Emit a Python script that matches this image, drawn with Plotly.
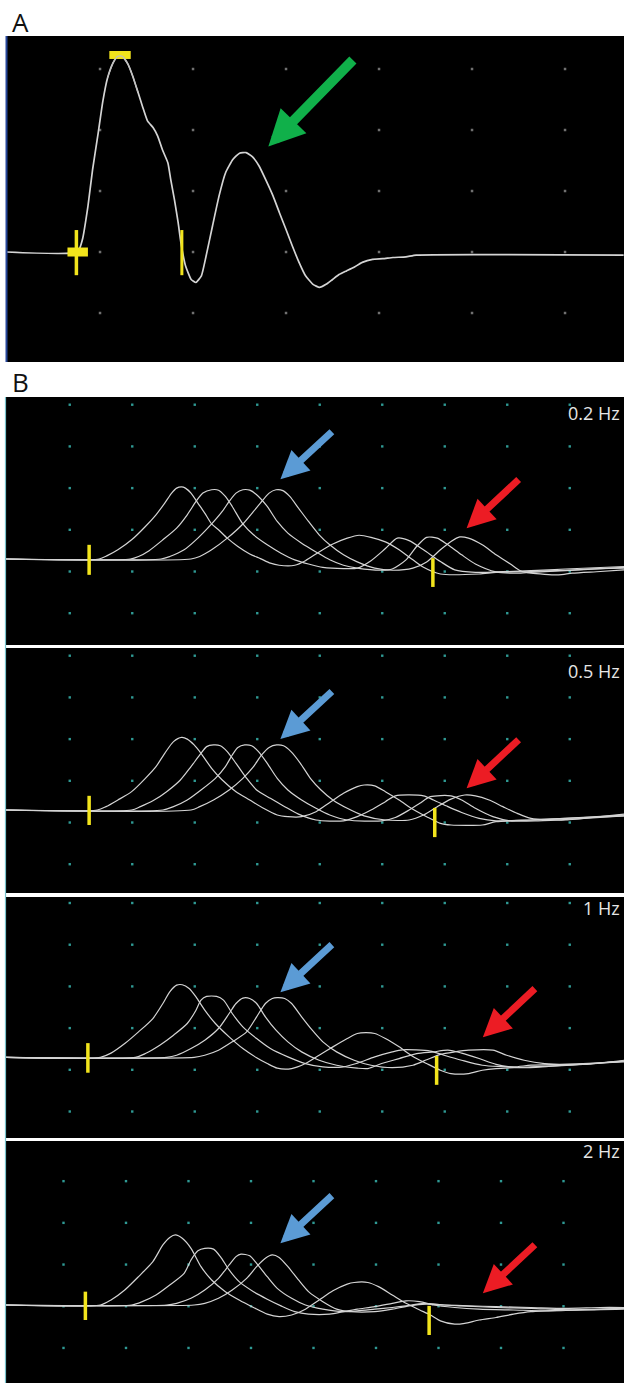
import plotly.graph_objects as go

W, H = 624, 1383

# ---------------- Panel A : single response (time in ms, amplitude in mV) -------------
a_time = [0.0, 0.76, 0.81, 0.87, 0.92, 0.98, 1.03, 1.08, 1.14, 1.19, 1.24, 1.30, 1.35, 1.41,
          1.46, 1.51, 1.57, 1.62, 1.67, 1.73, 1.76, 1.80, 1.84, 1.87, 1.92, 1.98, 2.03, 2.09,
          2.14, 2.21, 2.28, 2.35, 2.43, 2.50, 2.57, 2.64, 2.71, 2.78, 2.86, 2.93, 3.00, 3.07,
          3.14, 3.21, 3.29, 3.36, 3.43, 3.50, 3.57, 3.65, 3.72, 3.82, 3.93, 4.04, 4.15, 4.29,
          4.40, 6.63]
a_amp = [0.0, 0.0, 0.20, 0.75, 1.35, 1.95, 2.47, 2.85, 3.10, 3.21, 3.21, 3.08, 2.89, 2.61,
         2.37, 2.15, 2.04, 1.90, 1.68, 1.46, 1.19, 0.86, 0.48, 0.15, -0.23, -0.45, -0.50, -0.39,
         -0.07, 0.43, 0.92, 1.30, 1.52, 1.62, 1.63, 1.56, 1.41, 1.19, 0.92, 0.64, 0.37, 0.09,
         -0.17, -0.39, -0.53, -0.58, -0.53, -0.45, -0.37, -0.31, -0.26, -0.17, -0.12, -0.11,
         -0.09, -0.08, -0.05, -0.05]
a_grid_cols = [1, 2, 3, 4, 5, 6]
a_grid_rows = [-1, 0, 1, 2, 3]
a_onset_cursor_x = 0.746
a_onset_cursor_y = [0.36, -0.38]
a_onset_block_x = [0.65, 0.87]
a_peak_block_x = [1.10, 1.33]
a_peak_block_y = 3.23
a_end_cursor_x = 1.88
a_end_cursor_y = [0.36, -0.38]
a_arrow_tip = (2.81, 1.73)

# ---------------- Panel B : four superimposed responses per stimulation rate ----------
freq_labels = ["0.2 Hz", "0.5 Hz", "1 Hz", "2 Hz"]

hz02_r1 = [(0, 0), (1.49, 0), (1.62, 0.08), (1.79, 0.22), (2.01, 0.46), (2.23, 0.78), (2.40, 1.06),
           (2.54, 1.34), (2.65, 1.58), (2.73, 1.70), (2.81, 1.73), (2.87, 1.70), (2.96, 1.58),
           (3.07, 1.34), (3.18, 1.10), (3.29, 0.84), (3.40, 0.70), (3.54, 0.50), (3.71, 0.30),
           (3.90, 0.12), (4.07, 0.01), (4.23, -0.10), (4.37, -0.15), (4.62, -0.15), (4.79, -0.04),
           (5.01, 0.17), (5.23, 0.36), (5.46, 0.50), (5.65, 0.57), (5.84, 0.52), (6.07, 0.41),
           (6.29, 0.22), (6.51, -0.02), (6.68, -0.20), (6.95, -0.36), (7.57, -0.36), (7.84, -0.32),
           (8.40, -0.30), (8.95, -0.27), (9.51, -0.23), (9.89, -0.22)]
hz02_r2 = [(0, 0), (1.99, 0), (2.12, 0.06), (2.29, 0.20), (2.51, 0.46), (2.73, 0.74), (2.90, 1.06),
           (3.04, 1.38), (3.15, 1.58), (3.29, 1.66), (3.40, 1.65), (3.51, 1.50), (3.62, 1.26),
           (3.79, 0.84), (3.96, 0.58), (4.18, 0.34), (4.40, 0.14), (4.62, -0.02), (4.84, -0.12),
           (5.07, -0.20), (5.40, -0.23), (5.62, -0.22), (5.84, -0.04), (6.07, 0.25), (6.26, 0.50),
           (6.45, 0.44), (6.68, 0.22), (6.95, -0.06), (7.18, -0.26), (7.51, -0.32), (7.84, -0.31),
           (8.40, -0.28), (8.95, -0.24), (9.89, -0.18)]
hz02_r3 = [(0, 0), (2.48, 0), (2.62, 0.06), (2.85, 0.22), (3.07, 0.50), (3.29, 0.84), (3.46, 1.14),
           (3.57, 1.38), (3.68, 1.58), (3.79, 1.66), (3.90, 1.65), (4.01, 1.54), (4.18, 1.26),
           (4.34, 0.90), (4.51, 0.62), (4.73, 0.38), (4.96, 0.17), (5.18, -0.02), (5.40, -0.15),
           (5.62, -0.22), (6.01, -0.27), (6.18, -0.24), (6.40, -0.02), (6.57, 0.30), (6.73, 0.52),
           (6.90, 0.50), (7.07, 0.34), (7.29, 0.10), (7.51, -0.12), (7.84, -0.31), (8.18, -0.34),
           (8.40, -0.32), (8.95, -0.28), (9.89, -0.20)]
hz02_r4 = [(0, 0), (2.96, 0), (3.10, 0.06), (3.29, 0.22), (3.54, 0.50), (3.79, 0.84), (3.96, 1.14),
           (4.07, 1.34), (4.21, 1.58), (4.32, 1.66), (4.43, 1.64), (4.54, 1.50), (4.68, 1.22),
           (4.84, 0.90), (5.01, 0.58), (5.18, 0.34), (5.40, 0.10), (5.62, -0.07), (5.90, -0.22),
           (6.18, -0.27), (6.51, -0.22), (6.73, -0.07), (6.95, 0.22), (7.12, 0.42), (7.26, 0.53),
           (7.40, 0.50), (7.62, 0.34), (7.84, 0.10), (8.07, -0.12), (8.23, -0.28), (8.40, -0.34),
           (8.84, -0.38), (9.06, -0.34), (9.51, -0.30), (9.89, -0.26)]

hz05_r1 = [(0, 0), (1.46, 0), (1.60, 0.08), (1.79, 0.24), (2.01, 0.44), (2.23, 0.76), (2.40, 1.04),
           (2.54, 1.36), (2.68, 1.64), (2.81, 1.74), (2.90, 1.70), (3.01, 1.56), (3.12, 1.36),
           (3.29, 1.00), (3.46, 0.72), (3.68, 0.44), (3.90, 0.24), (4.12, 0.04), (4.34, -0.12),
           (4.51, -0.16), (4.73, -0.16), (4.96, -0.04), (5.18, 0.18), (5.40, 0.40), (5.62, 0.56),
           (5.73, 0.60), (5.90, 0.58), (6.07, 0.44), (6.29, 0.24), (6.51, 0.02), (6.73, -0.16),
           (6.95, -0.32), (7.12, -0.36), (7.62, -0.36), (7.84, -0.28), (8.40, -0.24), (8.95, -0.20),
           (9.89, -0.14)]
hz05_r2 = [(0, 0), (2.01, 0), (2.15, 0.08), (2.35, 0.22), (2.57, 0.44), (2.79, 0.72), (2.96, 1.04),
           (3.10, 1.32), (3.21, 1.52), (3.32, 1.56), (3.43, 1.54), (3.54, 1.40), (3.68, 1.12),
           (3.85, 0.76), (4.01, 0.48), (4.23, 0.28), (4.46, 0.08), (4.68, -0.10), (4.96, -0.24),
           (5.40, -0.26), (5.62, -0.16), (5.84, 0.0), (6.07, 0.20), (6.23, 0.34), (6.68, 0.34),
           (6.84, 0.24), (7.07, 0.08), (7.29, -0.06), (7.57, -0.20), (7.84, -0.26), (8.40, -0.24),
           (8.95, -0.20), (9.89, -0.12)]
hz05_r3 = [(0, 0), (2.51, 0), (2.68, 0.08), (2.90, 0.24), (3.12, 0.48), (3.35, 0.76), (3.51, 1.04),
           (3.62, 1.32), (3.71, 1.50), (3.82, 1.56), (3.93, 1.54), (4.04, 1.40), (4.18, 1.12),
           (4.34, 0.76), (4.51, 0.48), (4.73, 0.24), (4.96, 0.04), (5.18, -0.12), (5.46, -0.24),
           (6.01, -0.26), (6.23, -0.18), (6.45, 0.0), (6.62, 0.16), (6.79, 0.32), (7.12, 0.34),
           (7.29, 0.24), (7.51, 0.04), (7.79, -0.16), (8.07, -0.26), (8.51, -0.26), (9.06, -0.22),
           (9.89, -0.14)]
hz05_r4 = [(0, 0), (2.96, 0), (3.10, 0.08), (3.32, 0.24), (3.57, 0.48), (3.79, 0.76), (3.96, 1.04),
           (4.09, 1.32), (4.21, 1.50), (4.33, 1.56), (4.44, 1.54), (4.56, 1.40), (4.71, 1.12),
           (4.87, 0.76), (5.04, 0.48), (5.23, 0.24), (5.46, 0.04), (5.73, -0.14), (6.07, -0.24),
           (6.45, -0.24), (6.68, -0.12), (6.90, 0.08), (7.12, 0.26), (7.34, 0.36), (7.51, 0.34),
           (7.73, 0.24), (7.95, 0.08), (8.18, -0.08), (8.40, -0.20), (8.95, -0.24), (9.51, -0.16),
           (9.89, -0.10)]

hz1_r1 = [(0, 0), (1.51, 0), (1.68, 0.10), (1.90, 0.33), (2.12, 0.61), (2.35, 0.93), (2.51, 1.29),
          (2.62, 1.57), (2.73, 1.73), (2.82, 1.74), (2.93, 1.65), (3.04, 1.45), (3.18, 1.13),
          (3.35, 0.81), (3.57, 0.49), (3.79, 0.21), (4.01, -0.01), (4.18, -0.15), (4.34, -0.26),
          (4.57, -0.27), (4.79, -0.15), (5.01, 0.05), (5.23, 0.25), (5.46, 0.45), (5.62, 0.57),
          (5.76, 0.59), (5.90, 0.57), (6.07, 0.45), (6.29, 0.25), (6.51, 0.02), (6.73, -0.15),
          (6.95, -0.31), (7.12, -0.39), (7.40, -0.39), (7.62, -0.31), (7.84, -0.27), (8.40, -0.23),
          (8.95, -0.19), (9.89, -0.09)]
hz1_r2 = [(0, 0), (2.07, 0), (2.23, 0.09), (2.46, 0.29), (2.68, 0.53), (2.90, 0.81), (3.04, 1.13),
          (3.12, 1.37), (3.21, 1.46), (3.37, 1.46), (3.48, 1.37), (3.62, 1.05), (3.79, 0.73),
          (4.01, 0.45), (4.23, 0.21), (4.51, 0.01), (4.79, -0.15), (5.07, -0.23), (5.40, -0.23),
          (5.62, -0.14), (5.90, 0.01), (6.18, 0.13), (6.34, 0.18), (6.79, 0.15), (7.01, 0.05),
          (7.29, -0.07), (7.62, -0.19), (8.12, -0.23), (8.40, -0.19), (8.95, -0.17), (9.89, -0.11)]
hz1_r3 = [(0, 0), (2.57, 0), (2.73, 0.05), (2.96, 0.21), (3.18, 0.41), (3.40, 0.69), (3.57, 1.05),
          (3.68, 1.29), (3.79, 1.42), (3.90, 1.41), (4.01, 1.29), (4.15, 0.97), (4.32, 0.65),
          (4.51, 0.37), (4.73, 0.13), (5.01, -0.07), (5.29, -0.19), (5.62, -0.26), (5.79, -0.27),
          (6.01, -0.15), (6.29, -0.03), (6.57, 0.09), (6.84, 0.13), (7.07, 0.17), (7.29, 0.10),
          (7.57, -0.03), (7.84, -0.17), (8.23, -0.25), (8.68, -0.22), (9.23, -0.17), (9.89, -0.09)]
hz1_r4 = [(0, 0), (3.01, 0), (3.18, 0.05), (3.40, 0.17), (3.62, 0.37), (3.85, 0.61), (4.01, 0.97),
          (4.15, 1.29), (4.26, 1.41), (4.34, 1.43), (4.46, 1.41), (4.57, 1.29), (4.73, 0.97),
          (4.90, 0.65), (5.07, 0.37), (5.29, 0.13), (5.57, -0.07), (5.84, -0.19), (6.18, -0.25),
          (6.51, -0.19), (6.73, -0.06), (6.95, 0.07), (7.18, 0.13), (7.40, 0.17), (7.79, 0.17),
          (8.01, 0.05), (8.29, -0.07), (8.62, -0.15), (8.95, -0.17), (9.40, -0.15), (9.89, -0.07)]

hz2_r1 = [(0, 0), (1.51, 0), (1.68, 0.12), (1.90, 0.36), (2.12, 0.68), (2.35, 1.04), (2.51, 1.44),
          (2.62, 1.62), (2.71, 1.68), (2.82, 1.60), (2.96, 1.36), (3.12, 0.92), (3.29, 0.60),
          (3.51, 0.32), (3.73, 0.12), (3.96, -0.06), (4.18, -0.22), (4.37, -0.28), (4.57, -0.24),
          (4.79, -0.10), (5.01, 0.12), (5.23, 0.34), (5.46, 0.50), (5.57, 0.54), (5.79, 0.54),
          (5.96, 0.44), (6.18, 0.24), (6.40, 0.04), (6.62, -0.12), (6.79, -0.24), (6.95, -0.38),
          (7.18, -0.46), (7.34, -0.44), (7.57, -0.36), (7.84, -0.30), (8.12, -0.22), (8.40, -0.16),
          (8.95, -0.12), (9.89, -0.08)]
hz2_r2 = [(0, 0), (2.01, 0), (2.18, 0.08), (2.40, 0.24), (2.62, 0.48), (2.85, 0.76), (2.96, 1.08),
          (3.07, 1.30), (3.18, 1.36), (3.32, 1.34), (3.43, 1.16), (3.57, 0.84), (3.73, 0.56),
          (3.96, 0.32), (4.18, 0.14), (4.40, -0.02), (4.62, -0.16), (4.84, -0.22), (5.18, -0.22),
          (5.40, -0.16), (5.62, -0.10), (5.90, -0.04), (6.18, 0.04), (6.40, 0.10), (6.62, 0.08),
          (6.84, 0.0), (7.18, -0.06), (7.57, -0.10), (8.12, -0.12), (8.68, -0.14), (9.23, -0.12),
          (9.89, -0.08)]
hz2_r3 = [(0, 0), (2.57, 0), (2.73, 0.04), (2.96, 0.16), (3.18, 0.36), (3.40, 0.64), (3.57, 0.96),
          (3.68, 1.16), (3.76, 1.22), (3.90, 1.18), (4.01, 1.00), (4.18, 0.68), (4.34, 0.40),
          (4.57, 0.16), (4.79, 0.0), (5.07, -0.10), (5.40, -0.16), (5.62, -0.14), (5.90, -0.10),
          (6.18, -0.06), (6.40, -0.02), (6.68, 0.04), (7.01, 0.0), (7.29, -0.02), (7.84, -0.06),
          (8.40, -0.08), (9.06, -0.12), (9.89, -0.10)]
hz2_r4 = [(0, 0), (3.01, 0), (3.18, 0.04), (3.40, 0.16), (3.62, 0.36), (3.85, 0.64), (4.01, 0.92),
          (4.15, 1.12), (4.26, 1.20), (4.37, 1.14), (4.51, 0.92), (4.68, 0.60), (4.84, 0.32),
          (5.07, 0.08), (5.29, -0.10), (5.51, -0.16), (5.90, -0.16), (6.18, -0.10), (6.45, -0.02),
          (6.73, 0.02), (7.01, 0.0), (7.40, -0.02), (7.84, -0.04), (8.40, -0.06), (8.95, -0.08),
          (9.51, -0.06), (9.89, -0.06)]

b_responses = [
    [hz02_r1, hz02_r2, hz02_r3, hz02_r4],
    [hz05_r1, hz05_r2, hz05_r3, hz05_r4],
    [hz1_r1, hz1_r2, hz1_r3, hz1_r4],
    [hz2_r1, hz2_r2, hz2_r3, hz2_r4],
]

# cursors (onset / end markers) per rate
b_onset_x = [1.33, 1.33, 1.31, 1.27]
b_onset_y = [(0.34, -0.38), (0.34, -0.36), (0.34, -0.37), (0.32, -0.36)]
b_end_x = [6.83, 6.86, 6.89, 6.77]
b_end_y = [(0.02, -0.67), (0.05, -0.65), (0.03, -0.66), (-0.02, -0.72)]

# screen grid (divisions)
b_grid_cols = [[1.02 + k for k in range(9)]] * 3 + [[0.92 + k for k in range(9)]]
b_grid_rows = [[-1.3, -0.3, 0.7, 1.7, 2.7, 3.7]] * 3 + [[-1.03, -0.03, 0.97, 1.97, 2.97]]

# arrow tips (data coords of each panel)
blue_tips = [(4.39, 1.91), (4.39, 1.70), (4.39, 1.56), (4.39, 1.48)]
red_tips = [(7.37, 0.74), (7.37, 0.52), (7.63, 0.48), (7.63, 0.28)]

# ---------------- layout geometry (pixels) ----------------
b_panels_px = [(397, 645, 559.0), (648, 893, 810.0), (897, 1138, 1057.3), (1141, 1383, 1305.0)]
B_DIV_Y = 41.7
label_py = [413, 671, 908, 1151]

TRACE_COL = "#d4d4d4"
YELLOW = "#f2e41c"
BLUE = "#5b9bd5"
RED = "#ec1c24"
GREEN = "#10b04a"

fig = go.Figure()

# Panel A
ga_x = [c for c in a_grid_cols for r in a_grid_rows]
ga_y = [r for c in a_grid_cols for r in a_grid_rows]
fig.add_trace(go.Scatter(x=ga_x, y=ga_y, mode="markers", xaxis="x", yaxis="y",
                         marker=dict(symbol="square", size=2.5, color="#707070"),
                         hoverinfo="skip", showlegend=False))
fig.add_trace(go.Scatter(x=a_time, y=a_amp, mode="lines", xaxis="x", yaxis="y",
                         line=dict(color=TRACE_COL, width=1.7, shape="spline", smoothing=0.45),
                         showlegend=False))
fig.add_trace(go.Scatter(x=[a_onset_cursor_x, a_onset_cursor_x], y=a_onset_cursor_y, mode="lines",
                         xaxis="x", yaxis="y", line=dict(color=YELLOW, width=3.5), showlegend=False))
fig.add_trace(go.Scatter(x=a_onset_block_x, y=[0, 0], mode="lines", xaxis="x", yaxis="y",
                         line=dict(color=YELLOW, width=9), showlegend=False))
fig.add_trace(go.Scatter(x=a_peak_block_x, y=[a_peak_block_y] * 2, mode="lines", xaxis="x", yaxis="y",
                         line=dict(color=YELLOW, width=8), showlegend=False))
fig.add_trace(go.Scatter(x=[a_end_cursor_x, a_end_cursor_x], y=a_end_cursor_y, mode="lines",
                         xaxis="x", yaxis="y", line=dict(color=YELLOW, width=3), showlegend=False))
# redraw the trace thinly on top of the peak block
fig.add_trace(go.Scatter(x=a_time[7:14], y=a_amp[7:14], mode="lines", xaxis="x", yaxis="y",
                         line=dict(color="#bfbfbf", width=1.2, shape="spline", smoothing=0.45),
                         showlegend=False))

annotations = []
shapes = []

for i in range(4):
    xa = "x%d" % (i + 2)
    ya = "y%d" % (i + 2)
    gx = [c for c in b_grid_cols[i] for r in b_grid_rows[i]]
    gy = [r for c in b_grid_cols[i] for r in b_grid_rows[i]]
    fig.add_trace(go.Scatter(x=gx, y=gy, mode="markers", xaxis=xa, yaxis=ya,
                             marker=dict(symbol="square", size=2.4, color="#2f9a94"),
                             hoverinfo="skip", showlegend=False))
    for resp in b_responses[i]:
        fig.add_trace(go.Scatter(x=[p[0] for p in resp], y=[p[1] for p in resp], mode="lines",
                                 xaxis=xa, yaxis=ya,
                                 line=dict(color=TRACE_COL, width=1.2, shape="spline", smoothing=0.7),
                                 showlegend=False))
    fig.add_trace(go.Scatter(x=[b_onset_x[i]] * 2, y=list(b_onset_y[i]), mode="lines",
                             xaxis=xa, yaxis=ya, line=dict(color=YELLOW, width=3.5), showlegend=False))
    fig.add_trace(go.Scatter(x=[b_end_x[i]] * 2, y=list(b_end_y[i]), mode="lines",
                             xaxis=xa, yaxis=ya, line=dict(color=YELLOW, width=3.5), showlegend=False))

    # arrows
    annotations.append(dict(x=blue_tips[i][0], y=blue_tips[i][1], xref=xa, yref=ya, ax=53, ay=-49,
                            text="", showarrow=True, arrowhead=2, arrowwidth=7, arrowsize=0.8,
                            arrowcolor=BLUE))
    annotations.append(dict(x=red_tips[i][0], y=red_tips[i][1], xref=xa, yref=ya, ax=53.5, ay=-50,
                            text="", showarrow=True, arrowhead=2, arrowwidth=7, arrowsize=0.8,
                            arrowcolor=RED))
    # rate label
    annotations.append(dict(x=622 / W, y=1 - label_py[i] / H, xref="paper", yref="paper",
                            xanchor="right", yanchor="middle", showarrow=False, text=freq_labels[i],
                            font=dict(family="Open Sans", size=18, color="#e6e6e6")))

annotations.append(dict(x=a_arrow_tip[0], y=a_arrow_tip[1], xref="x", yref="y", ax=86, ay=-88,
                        text="", showarrow=True, arrowhead=2, arrowwidth=10, arrowsize=0.72,
                        arrowcolor=GREEN))
annotations.append(dict(x=10 / W, y=1 - 22 / H, xref="paper", yref="paper", xanchor="left",
                        yanchor="middle", showarrow=False, text="A",
                        font=dict(family="Open Sans", size=26, color="#111111")))
annotations.append(dict(x=10 / W, y=1 - 382 / H, xref="paper", yref="paper", xanchor="left",
                        yanchor="middle", showarrow=False, text="B",
                        font=dict(family="Open Sans", size=26, color="#111111")))

# screen edge lines
shapes.append(dict(type="line", xref="paper", yref="paper", x0=6.5 / W, x1=6.5 / W,
                   y0=1 - 362 / H, y1=1 - 36 / H, line=dict(color="#27479a", width=2)))
shapes.append(dict(type="line", xref="paper", yref="paper", x0=5.5 / W, x1=5.5 / W,
                   y0=0, y1=1 - 397 / H, line=dict(color="#79c3cc", width=1.2)))

hidden = dict(visible=False, showgrid=False, zeroline=False, fixedrange=True)
layout = dict(
    width=W, height=H, autosize=False,
    margin=dict(l=0, r=0, t=0, b=0, pad=0),
    paper_bgcolor="white", plot_bgcolor="black",
    showlegend=False,
    annotations=annotations, shapes=shapes,
    xaxis=dict(domain=[6 / W, 1], range=[-0.011, 6.634], anchor="y", **hidden),
    yaxis=dict(domain=[1 - 362 / H, 1 - 36 / H], range=[-1.803, 3.541], anchor="x", **hidden),
)
for i, (top, bot, base) in enumerate(b_panels_px):
    n = i + 2
    layout["xaxis%d" % n] = dict(domain=[5 / W, 1], range=[-0.016, 9.888], anchor="y%d" % n, **hidden)
    layout["yaxis%d" % n] = dict(domain=[1 - bot / H, 1 - top / H],
                                 range=[(base - bot) / B_DIV_Y, (base - top) / B_DIV_Y],
                                 anchor="x%d" % n, **hidden)

fig.update_layout(**layout)
fig.write_html("out.html", config={"displayModeBar": False},
               post_script="document.body.style.margin='0px';document.body.style.overflow='hidden';")
